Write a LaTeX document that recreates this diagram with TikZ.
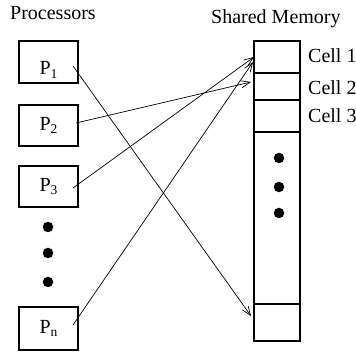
\documentclass[tikz,border=0pt]{standalone}
\usepackage{fontspec}
\setmainfont{Liberation Serif}
\usetikzlibrary{arrows.meta}
\newcommand{\Psb}[1]{P\raisebox{-3.5pt}{\fontsize{13.5}{13.5}\selectfont #1}}
\begin{document}
\begin{tikzpicture}[x=1pt,y=-1pt,
  box/.style={draw,line width=1.3pt,inner sep=0pt,font=\fontsize{20}{24}\selectfont},
  cell/.style={draw,line width=1.3pt,inner sep=0pt},
  lbl/.style={inner sep=0pt,anchor=base west,font=\fontsize{20}{24}\selectfont},
  dot/.style={fill,circle,inner sep=0pt,minimum size=10.5pt},
  conn/.style={line width=0.7pt,-{Straight Barb[length=9pt,width=7pt]}}]
\useasboundingbox (0,0) rectangle (356,352);
% labels
\node[lbl] (tproc) at (10,20) {Processors};
\node[lbl] (tmem) at (211,24) {Shared Memory};
% processor boxes
\node[box,minimum width=59pt,minimum height=42pt] (p1) at (48.5,62) {\raisebox{-9.5pt}[7pt][0pt]{\Psb{1}}};
\node[box,minimum width=59pt,minimum height=41pt] (p2) at (48.5,125.5) {\Psb{2}};
\node[box,minimum width=59pt,minimum height=41pt] (p3) at (48.5,186.5) {\Psb{3}};
\node[box,minimum width=59pt,minimum height=43pt] (pn) at (48.5,328.5) {\Psb{n}};
\node[dot] (d1) at (48,227) {};
\node[dot] (d2) at (48,253) {};
\node[dot] (d3) at (48,282) {};
% memory
\node[cell,minimum width=46pt,minimum height=32pt] (c1) at (277,57) {};
\node[cell,minimum width=46pt,minimum height=27pt] (c2) at (277,86.5) {};
\node[cell,minimum width=46pt,minimum height=32pt] (c3) at (277,116) {};
\node[cell,minimum width=46pt,minimum height=172pt] (cm) at (277,218) {};
\node[cell,minimum width=46pt,minimum height=37pt] (cb) at (277,322.5) {};
\node[dot] (m1) at (279,158) {};
\node[dot] (m2) at (279,187) {};
\node[dot] (m3) at (279,213) {};
\node[lbl] (l1) at (308,63) {Cell 1};
\node[lbl] (l2) at (308,95) {Cell 2};
\node[lbl] (l3) at (308,123) {Cell 3};
% connector ends
\coordinate (s1) at (73,66);
\coordinate (s2) at (76,123);
\coordinate (s3) at (73,188);
\coordinate (sn) at (73,325);
\coordinate (e1) at (251,316);
\coordinate (e2) at (251,82);
\coordinate (e3) at (254,57);
\coordinate (en) at (253,62);
\draw[conn] (s1) -- (e1);
\draw[conn] (s2) -- (e2);
\draw[conn] (s3) -- (e3);
\draw[conn] (sn) -- (en);
\end{tikzpicture}
\end{document}
